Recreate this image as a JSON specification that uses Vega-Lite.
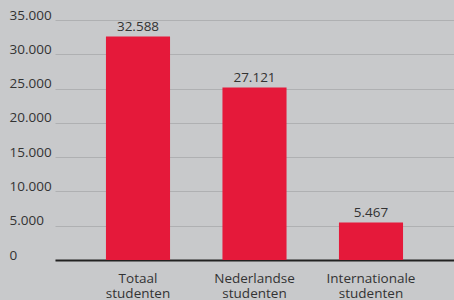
{
  "$schema": "https://vega.github.io/schema/vega-lite/v6.json",
  "width": 399,
  "height": 240,
  "autosize": {"type": "none"},
  "padding": {"left": 55, "top": 20, "right": 0, "bottom": 40},
  "background": "#c8c9cb",
  "config": {
    "view": {"stroke": null},
    "font": "Open Sans"
  },
  "data": {
    "values": [
      {"categorie": "Totaal studenten", "aantal": 32588, "label": "32.588"},
      {"categorie": "Nederlandse studenten", "aantal": 25150, "label": "27.121"},
      {"categorie": "Internationale studenten", "aantal": 5467, "label": "5.467"}
    ]
  },
  "encoding": {
    "x": {
      "field": "categorie",
      "type": "nominal",
      "sort": null,
      "scale": {"paddingInner": 0.45, "paddingOuter": 0.4375},
      "axis": {
        "title": null,
        "labelAngle": 0,
        "labelExpr": "split(datum.label, ' ')",
        "labelFontSize": 13.5,
        "labelColor": "#333333",
        "labelLineHeight": 15.5,
        "labelPadding": 11,
        "labelBaseline": "top",
        "ticks": false,
        "domainColor": "#222222",
        "domainWidth": 2
      }
    },
    "y": {
      "field": "aantal",
      "type": "quantitative",
      "scale": {"domain": [0, 35000], "nice": false},
      "axis": {
        "title": null,
        "values": [0, 5000, 10000, 15000, 20000, 25000, 30000, 35000],
        "labelExpr": "replace(format(datum.value, ','), ',', '.')",
        "labelAlign": "left",
        "labelBaseline": "alphabetic",
        "labelPadding": 46,
        "labelOffset": -1,
        "labelFontSize": 13.5,
        "labelColor": "#333333",
        "ticks": false,
        "domain": false,
        "gridColor": "#afb0b2",
        "gridWidth": 1
      }
    }
  },
  "layer": [
    {"mark": {"type": "bar", "color": "#e5193a"}},
    {
      "mark": {"type": "text", "baseline": "alphabetic", "dy": -6, "fontSize": 13.5, "color": "#333333"},
      "encoding": {"text": {"field": "label"}}
    }
  ]
}
